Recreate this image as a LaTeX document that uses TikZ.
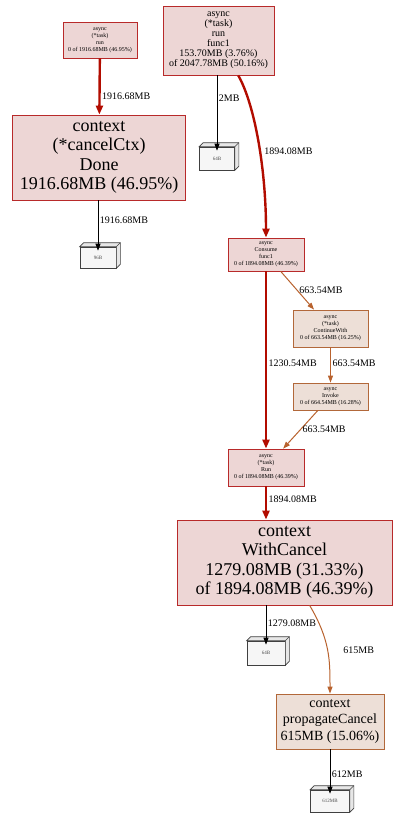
\documentclass[tikz,border=0pt]{standalone}
\usepackage{fontspec}
\setmainfont{Liberation Serif}
\usetikzlibrary{arrows.meta}

\definecolor{hotfill}{HTML}{EDD6D5}
\definecolor{hotline}{HTML}{B82A2A}
\definecolor{warmfill}{HTML}{EDDFD7}
\definecolor{warmline}{HTML}{B2683A}
\definecolor{hotedge}{HTML}{B20C00}
\definecolor{warmedge}{HTML}{B8622E}
\definecolor{leaffill}{HTML}{F6F6F6}

\begin{document}
\begin{tikzpicture}[
  x=1pt, y=-1pt,
  fn/.style={draw, align=center, inner sep=0pt, line width=0.8pt},
  hot/.style={fn, fill=hotfill, draw=hotline},
  warm/.style={fn, fill=warmfill, draw=warmline},
  leaf/.style={draw=black!75, fill=leaffill, inner sep=0pt, line width=0.6pt,
    font=\fontsize{5}{6}\selectfont, text=black!70},
  tiny/.style={font=\fontsize{6}{7}\selectfont},
  mid/.style={font=\fontsize{10}{10}\selectfont},
  big/.style={font=\fontsize{18}{19.5}\selectfont},
  lbl/.style={font=\fontsize{10}{12}\selectfont, inner sep=1.5pt},
  hotarrow/.style={-{Triangle[length=9pt,width=7pt]}, draw=hotedge, line width=2.4pt},
  warmarrow/.style={-{Triangle[length=7pt,width=5pt]}, draw=warmedge, line width=1pt},
  arrow/.style={-{Triangle[length=7pt,width=5pt]}, draw=black, line width=0.8pt}
]
\useasboundingbox (0,0) rectangle (400,819);

% function nodes
\node[hot, tiny, minimum width=74pt, minimum height=36pt] (taskrun) at (100,40)
  {async\\(*task)\\run\\0 of 1916.68MB (46.95\%)};
\node[hot, mid, minimum width=111pt, minimum height=69pt] (func1) at (218.5,40.5)
  {async\\(*task)\\run\\func1\\153.70MB (3.76\%)\\of 2047.78MB (50.16\%)};
\node[hot, big, minimum width=173pt, minimum height=85pt] (done) at (99,157.5)
  {context\\(*cancelCtx)\\Done\\1916.68MB (46.95\%)};
\node[hot, tiny, minimum width=76pt, minimum height=33pt] (consume) at (266,254.5)
  {async\\Consume\\func1\\0 of 1894.08MB (46.39\%)};
\node[warm, tiny, minimum width=75pt, minimum height=37pt] (contwith) at (330.5,328.5)
  {async\\(*task)\\ContinueWith\\0 of 663.54MB (16.25\%)};
\node[warm, tiny, minimum width=75pt, minimum height=27pt] (invoke) at (330.5,396.5)
  {async\\Invoke\\0 of 664.54MB (16.28\%)};
\node[hot, tiny, minimum width=76pt, minimum height=37pt] (taskrun2) at (266,467.5)
  {async\\(*task)\\Run\\0 of 1894.08MB (46.39\%)};
\node[hot, big, minimum width=215pt, minimum height=85pt] (withcancel) at (284.5,562.5)
  {context\\WithCancel\\1279.08MB (31.33\%)\\of 1894.08MB (46.39\%)};
\node[warm, font=\fontsize{14}{16.5}\selectfont, minimum width=108pt, minimum height=55pt] (propagate) at (330,721.5)
  {context\\propagateCancel\\615MB (15.06\%)};

% leaf boxes
\node[leaf, minimum width=36pt, minimum height=21pt] (leafDone) at (98,257.5) {96B};
\node[leaf, minimum width=35pt, minimum height=23pt] (leafFunc) at (217,158.5) {64B};
\node[leaf, minimum width=38pt, minimum height=24pt] (leafWith) at (266,653) {64B};
\node[leaf, minimum width=39pt, minimum height=22pt] (leafProp) at (330,801) {612MB};
\foreach \n in {leafDone, leafFunc, leafWith, leafProp} {
  \filldraw[draw=black!75, fill=leaffill!94!black, line width=0.6pt]
    (\n.north west) -- ([shift={(4,-4)}]\n.north west) -- ([shift={(4,-4)}]\n.north east)
    -- ([shift={(4,-4)}]\n.south east) -- (\n.south east) -- (\n.north east) -- cycle;
  \draw[draw=black!75, line width=0.6pt] (\n.north east) -- ([shift={(4,-4)}]\n.north east);
}

% connectors
\draw[hotarrow] (taskrun) -- node[lbl, pos=0.67, right] {1916.68MB} (done);
\draw[arrow] (func1.south -| leafFunc) -- node[lbl, pos=0.3, right] {2MB} ([yshift=-4]leafFunc.north);
\draw[hotarrow] (func1) .. controls (255,105) and (266,170) .. node[lbl, pos=0.55, right=2pt] {1894.08MB} (consume);
\draw[arrow] (done.south -| leafDone) -- node[lbl, pos=0.4, right] {1916.68MB} ([yshift=-4]leafDone.north);
\draw[warmarrow] (consume) -- node[lbl, pos=0.5, right] {663.54MB} (contwith);
\draw[hotarrow] (consume) -- node[lbl, pos=0.52, right] {1230.54MB} (taskrun2);
\draw[warmarrow] (contwith) -- node[lbl, pos=0.45, right] {663.54MB} (invoke);
\draw[warmarrow] (invoke) -- node[lbl, pos=0.5, right] {663.54MB} (taskrun2);
\draw[hotarrow] (taskrun2) -- node[lbl, pos=0.4, right] {1894.08MB} (taskrun2 |- withcancel.north);
\draw[arrow] (withcancel.south -| leafWith) -- node[lbl, pos=0.45, right] {1279.08MB} ([yshift=-4]leafWith.north);
\draw[warmarrow] (withcancel) .. controls (330,640) and (330,660) .. node[lbl, pos=0.5, right=14pt] {615MB} (propagate);
\draw[arrow] (propagate) -- node[lbl, pos=0.55, right] {612MB} ([yshift=-4]leafProp.north);
\end{tikzpicture}
\end{document}
